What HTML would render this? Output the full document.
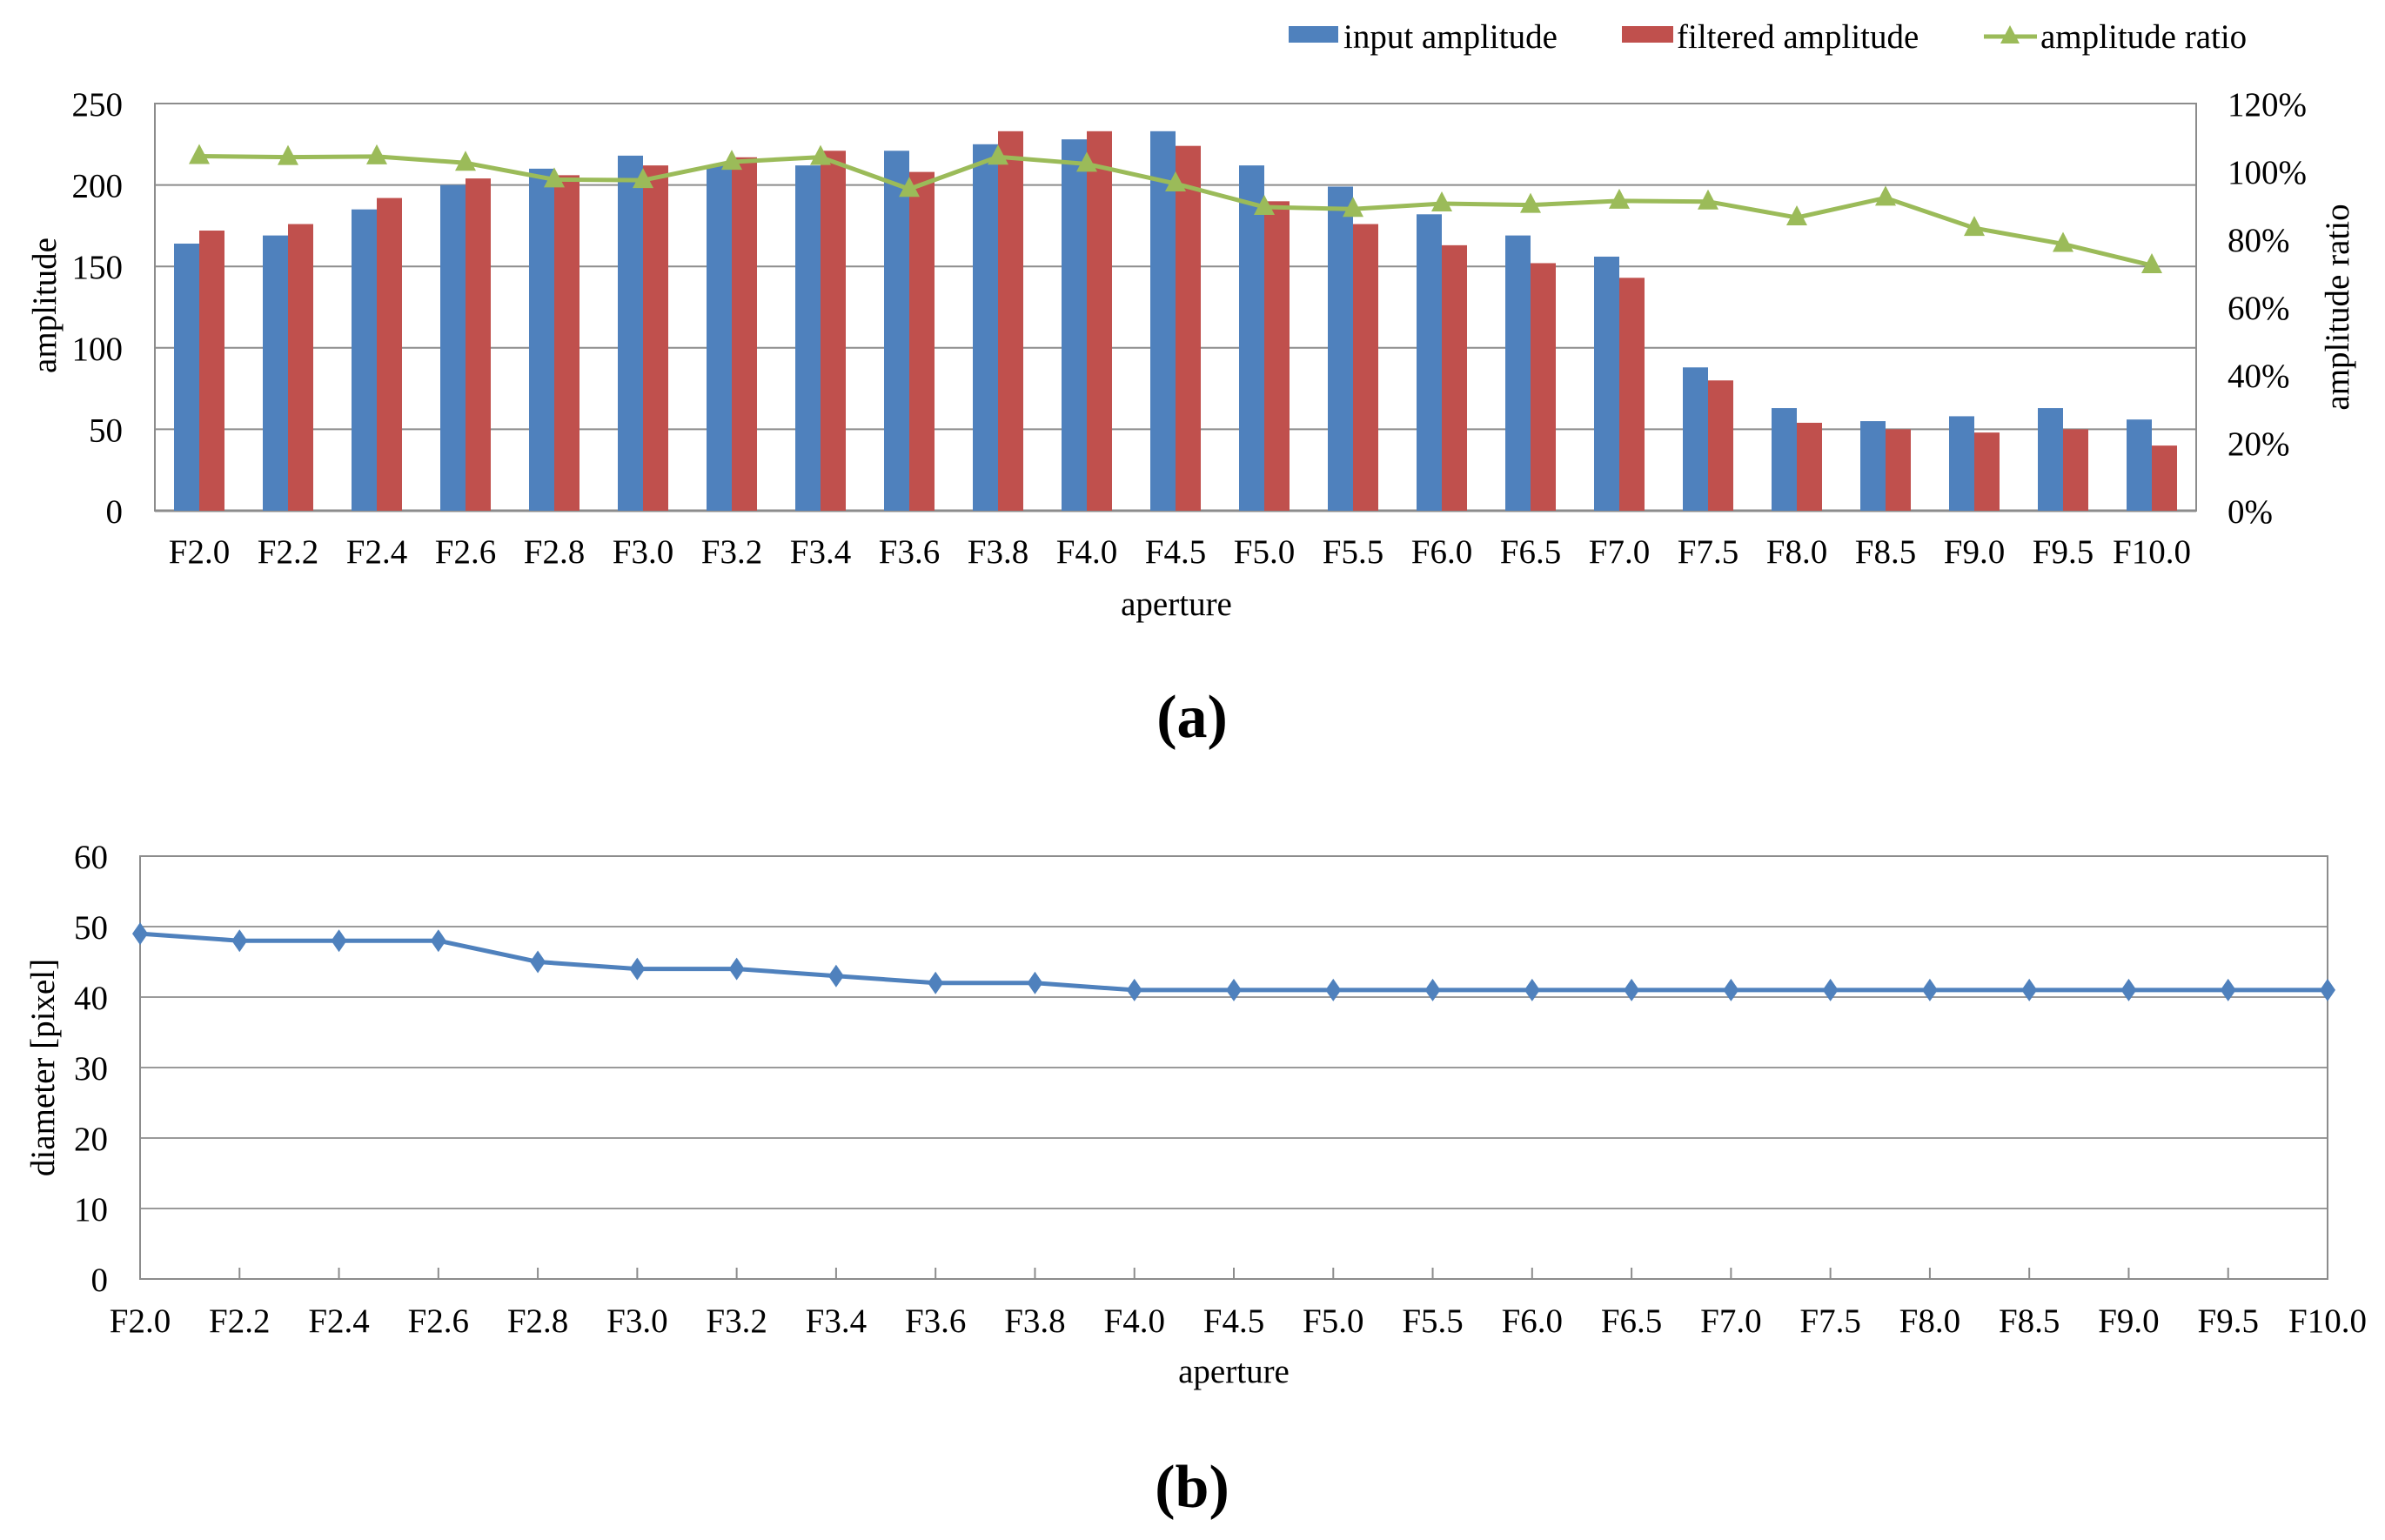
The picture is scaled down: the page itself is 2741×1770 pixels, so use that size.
<!DOCTYPE html>
<html><head><meta charset="utf-8"><style>
html,body{margin:0;padding:0;background:#fff;}
svg{display:block;font-family:"Liberation Serif",serif;}
</style></head><body>
<svg id="fig" width="2741" height="1770" viewBox="0 0 2741 1770" xmlns="http://www.w3.org/2000/svg">
<g id="chartA"></g>
<g id="chartB"></g>
</svg>
<script>
const categories = ["F2.0","F2.2","F2.4","F2.6","F2.8","F3.0","F3.2","F3.4","F3.6","F3.8","F4.0","F4.5","F5.0","F5.5","F6.0","F6.5","F7.0","F7.5","F8.0","F8.5","F9.0","F9.5","F10.0"];
const inputAmp = [164,169,185,200,210,218,212,212,221,225,228,233,212,199,182,169,156,88,63,55,58,63,56];
const filteredAmp = [172,176,192,204,206,212,217,221,208,233,233,224,190,176,163,152,143,80,54,50,48,50,40];
const ampRatio = [104.5,104.2,104.4,102.5,97.6,97.4,102.8,104.2,94.8,104.3,102.2,96.4,89.5,88.9,90.5,90.1,91.3,91.1,86.4,92.2,83.3,78.6,72.3];
const leftTicks = [0,50,100,150,200,250];
const rightTicks = [0,20,40,60,80,100,120];
const diameter = [49,48,48,48,45,44,44,43,42,42,41,41,41,41,41,41,41,41,41,41,41,41,41];
const diamTicks = [0,10,20,30,40,50,60];

const FS=39;
const NS="http://www.w3.org/2000/svg";
function mk(parent,tag,attrs,text){const e=document.createElementNS(NS,tag);for(const k in attrs)e.setAttribute(k,attrs[k]);if(text!==undefined)e.textContent=text;parent.appendChild(e);return e;}

// ---------- Chart A ----------
(function(){
const g=document.getElementById('chartA');
const L=178,R=2524,T=119,B=587;
const n=categories.length, cw=(R-L)/n;
const yL=v=>B-(v/250)*(B-T);
const yR=v=>B-(v/120)*(B-T);
const xc=i=>L+cw*(i+0.5);
const bw=29;
leftTicks.forEach(t=>{
  const l=mk(g,'line',{x1:L,x2:R,y1:yL(t),y2:yL(t),stroke:'#8c8c8c','stroke-width':t===0?3:2});
  
  
  const tx=mk(g,'text',{x:141,y:yL(t)+14,'text-anchor':'end','font-size':FS},String(t));
  
  
});
rightTicks.forEach(t=>{
  const tx=mk(g,'text',{x:2560,y:yR(t)+14,'text-anchor':'start','font-size':FS},t+'%');
  
  
});
const fr=mk(g,'rect',{x:L,y:T,width:R-L,height:B-T,fill:'none',stroke:'#8c8c8c','stroke-width':2});


categories.forEach((c,i)=>{
  const b1=mk(g,'rect',{x:xc(i)-bw,y:yL(inputAmp[i]),width:bw,height:B-yL(inputAmp[i]),fill:'#4f81bd'});
  
  
  const b2=mk(g,'rect',{x:xc(i),y:yL(filteredAmp[i]),width:bw,height:B-yL(filteredAmp[i]),fill:'#c0504d'});
  
  
  const tx=mk(g,'text',{x:xc(i),y:647,'text-anchor':'middle','font-size':FS},c);
  
  
});
const pl=mk(g,'polyline',{points:ampRatio.map((v,i)=>xc(i)+','+yR(v)).join(' '),fill:'none',stroke:'#9bbb59','stroke-width':5});


ampRatio.forEach((v,i)=>{
  const x=xc(i),y=yR(v);
  const p=mk(g,'polygon',{points:(x)+','+(y-14)+' '+(x-12)+','+(y+9)+' '+(x+12)+','+(y+9),fill:'#9bbb59'});
  
  
});
let t;
t=mk(g,'text',{x:1352,y:707,'text-anchor':'middle','font-size':FS},'aperture');

t=mk(g,'text',{x:0,y:0,'text-anchor':'middle','font-size':FS,transform:'translate(64,351) rotate(-90)'},'amplitude');

t=mk(g,'text',{x:0,y:0,'text-anchor':'middle','font-size':FS,transform:'translate(2699,353) rotate(-90)'},'amplitude ratio');

// legend
let r=mk(g,'rect',{x:1481,y:30,width:57,height:19,fill:'#4f81bd'});

t=mk(g,'text',{x:1544,y:55,'font-size':FS},'input amplitude');

r=mk(g,'rect',{x:1864,y:30,width:59,height:19,fill:'#c0504d'});

t=mk(g,'text',{x:1927,y:55,'font-size':FS},'filtered amplitude');

r=mk(g,'line',{x1:2280,x2:2341,y1:42,y2:42,stroke:'#9bbb59','stroke-width':5});

r=mk(g,'polygon',{points:'2310,29 2299,50 2321,50',fill:'#9bbb59'});

t=mk(g,'text',{x:2345,y:55,'font-size':FS},'amplitude ratio');

t=mk(g,'text',{x:1370,y:847,'text-anchor':'middle','font-size':70,'font-weight':'bold'},'(a)');

})();

// ---------- Chart B ----------
(function(){
const g=document.getElementById('chartB');
const L=161,R=2675,T=984,B=1470;
const n=categories.length, step=(R-L)/(n-1);
const y=v=>B-(v/60)*(B-T);
const x=i=>L+step*i;
diamTicks.forEach(t=>{
  const l=mk(g,'line',{x1:L,x2:R,y1:y(t),y2:y(t),stroke:'#9a9a9a','stroke-width':2});
  
  
  const tx=mk(g,'text',{x:124,y:y(t)+14,'text-anchor':'end','font-size':FS},String(t));
  
  
});
const fr=mk(g,'rect',{x:L,y:T,width:R-L,height:B-T,fill:'none',stroke:'#8c8c8c','stroke-width':2});


categories.forEach((c,i)=>{
  const tk=mk(g,'line',{x1:x(i),x2:x(i),y1:B-13,y2:B,stroke:'#8c8c8c','stroke-width':2});
  
  
  const tx=mk(g,'text',{x:x(i),y:1531,'text-anchor':'middle','font-size':FS},c);
  
  
});
const pl=mk(g,'polyline',{points:diameter.map((v,i)=>x(i)+','+y(v)).join(' '),fill:'none',stroke:'#4f81bd','stroke-width':5});


diameter.forEach((v,i)=>{
  const cx=x(i),cy=y(v);
  const p=mk(g,'polygon',{points:cx+','+(cy-13)+' '+(cx+9)+','+cy+' '+cx+','+(cy+13)+' '+(cx-9)+','+cy,fill:'#4f81bd'});
  
  
});
let t=mk(g,'text',{x:1418,y:1589,'text-anchor':'middle','font-size':FS},'aperture');

t=mk(g,'text',{x:0,y:0,'text-anchor':'middle','font-size':FS,transform:'translate(62,1227) rotate(-90)'},'diameter [pixel]');

t=mk(g,'text',{x:1370,y:1732,'text-anchor':'middle','font-size':70,'font-weight':'bold'},'(b)');

})();
</script>
</body></html>
